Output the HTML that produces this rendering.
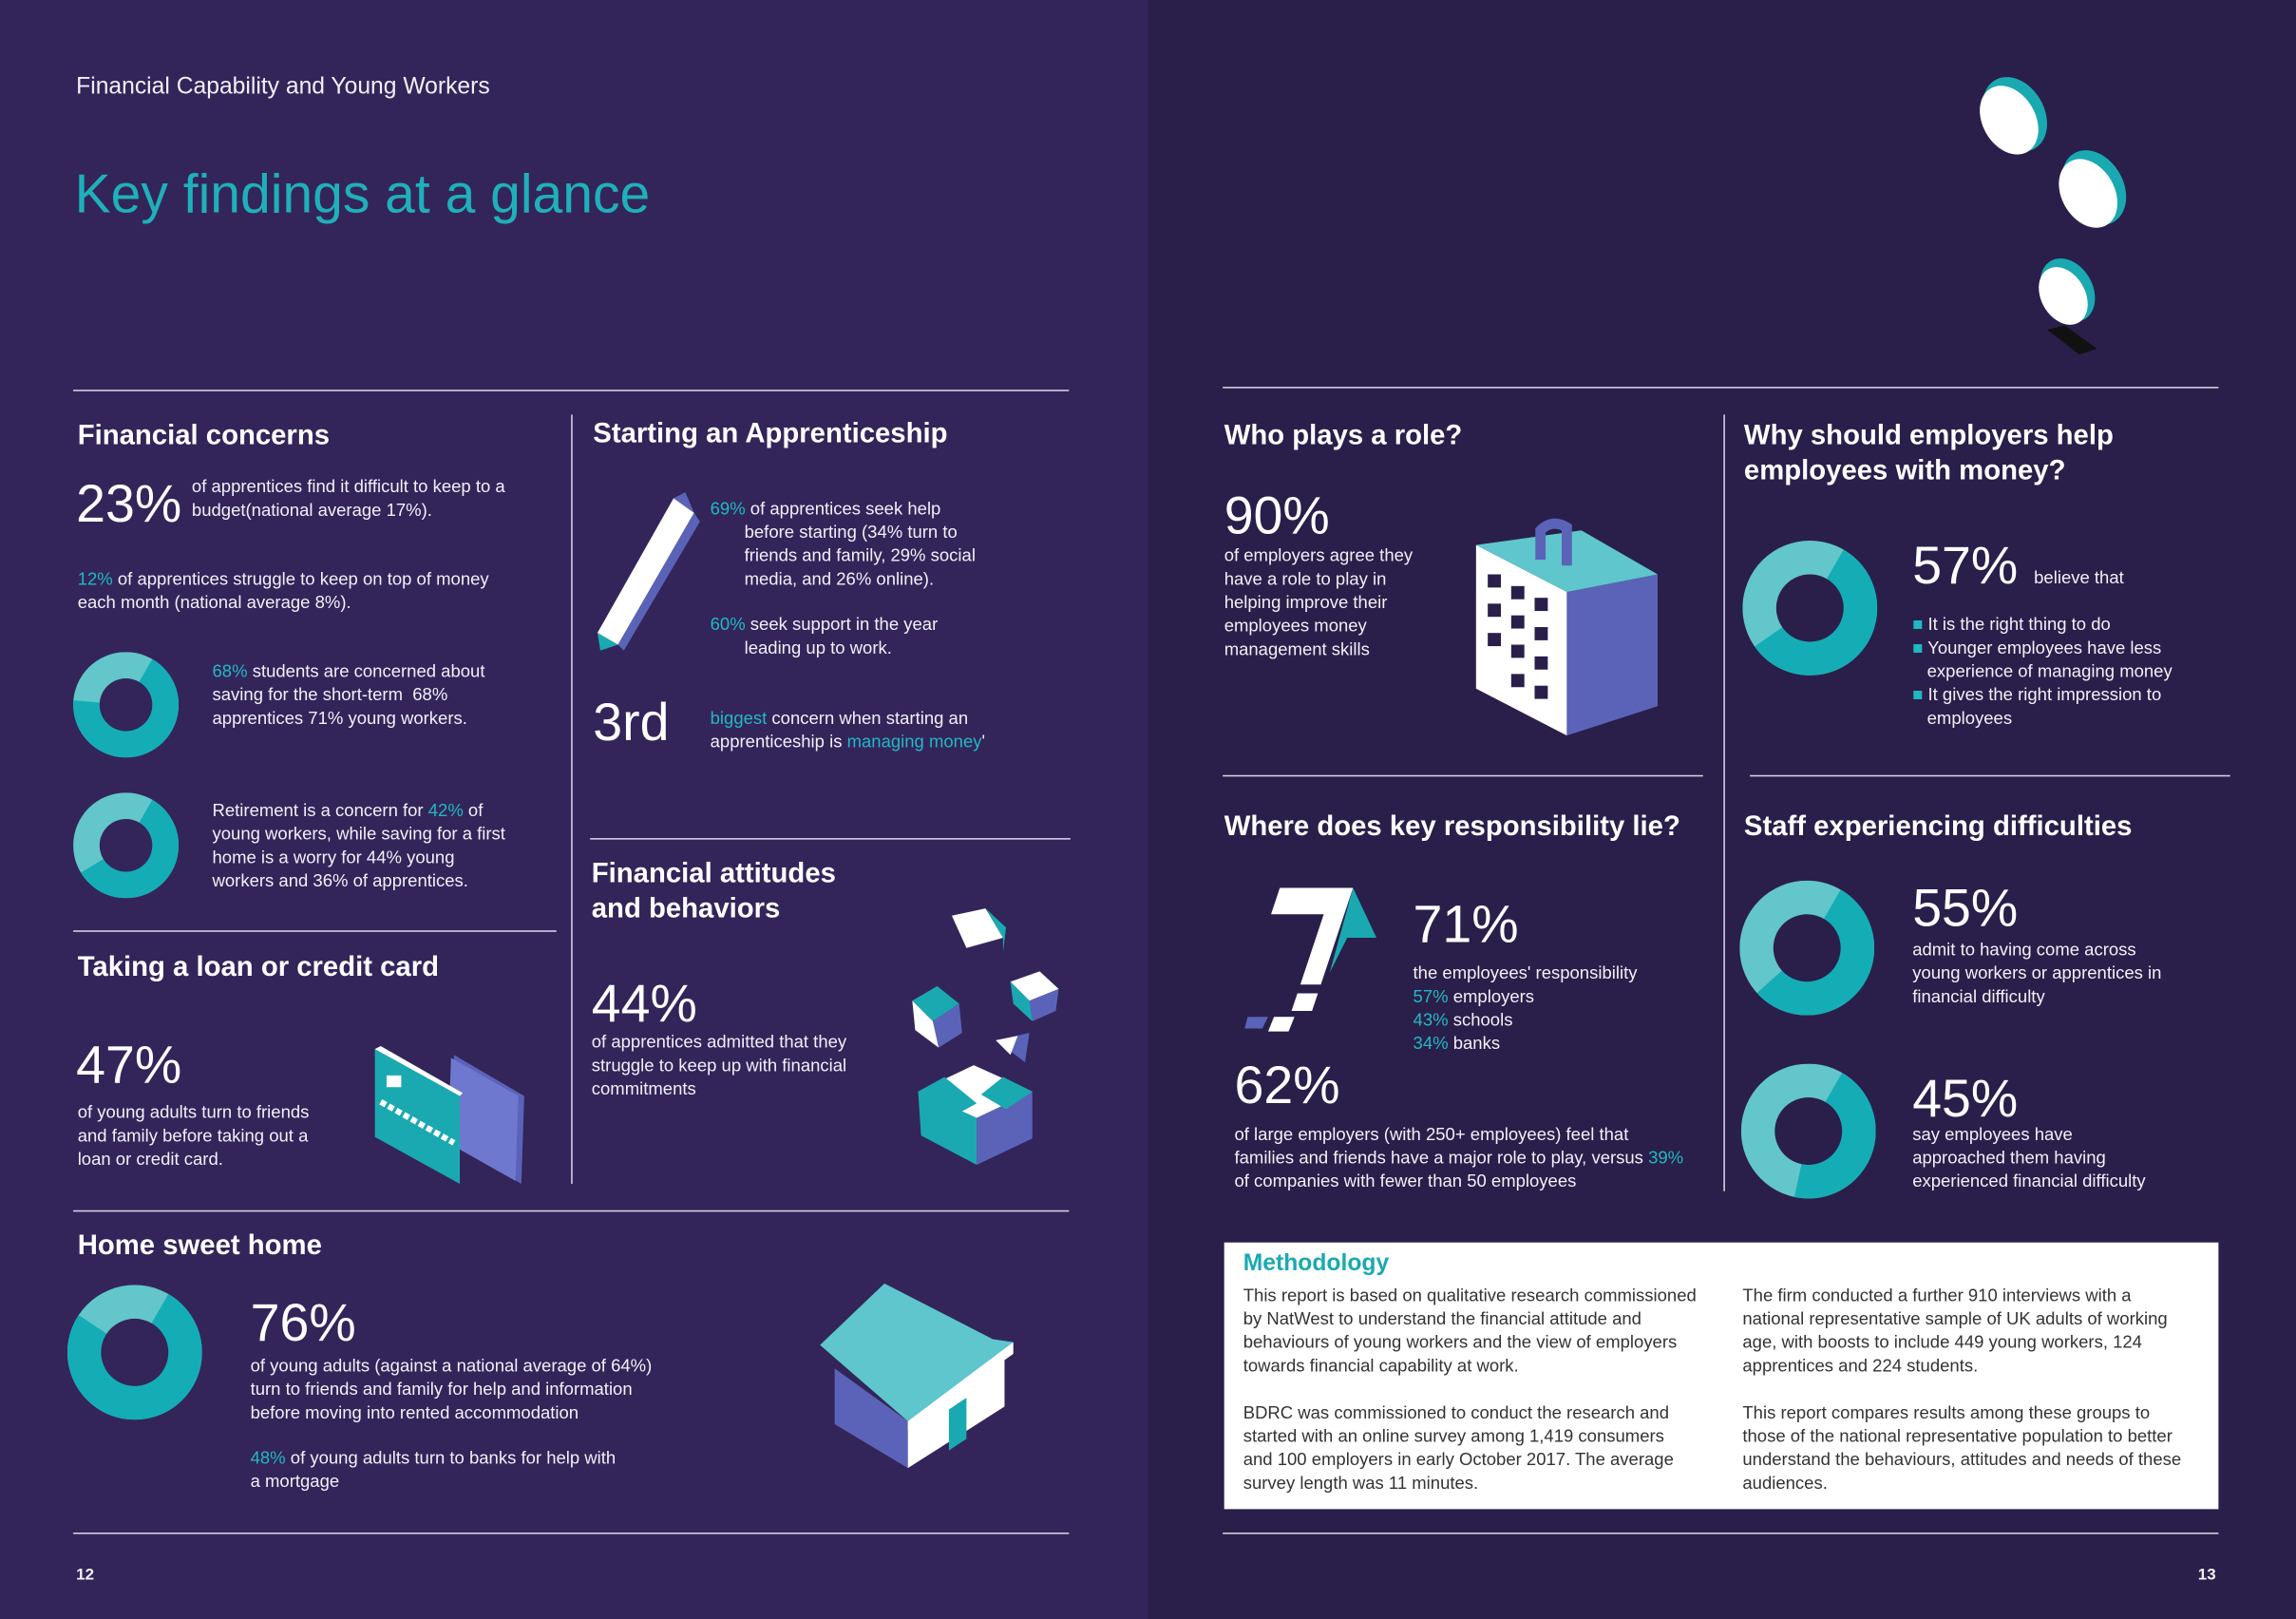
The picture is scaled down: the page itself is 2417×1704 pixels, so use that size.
<!DOCTYPE html>
<html><head><meta charset="utf-8"><style>
html,body{margin:0;padding:0;width:2417px;height:1704px;overflow:hidden;background:#2c2150}
#wrap{position:absolute;left:0;top:0;width:1568px;height:1105px;transform:scale(1.5415,1.5421);transform-origin:0 0;font-family:"Liberation Sans",sans-serif;color:#fff}
.l{position:absolute;left:0;top:0;width:784px;height:1105px;background:#33255a}
.r{position:absolute;left:784px;top:0;width:784px;height:1105px;background:#2a1f4a}
.t{position:absolute;font-size:12px;line-height:16px;color:#f2f0f7}
.h{position:absolute;font-size:19px;font-weight:bold;line-height:24px}
.big{position:absolute;font-size:36px;line-height:38px}
.c{color:#22b8c2}
.hl{position:absolute;height:1px;background:#d8d4e4}
.vl{position:absolute;width:1px;background:#d8d4e4}
svg.d{position:absolute}
</style></head><body>
<div id="wrap">
<div class="l"></div>
<div class="r"></div>
<div class="t" style="left:52px;top:52px;font-size:16px">Financial Capability and Young Workers</div>
<div style="position:absolute;left:51px;top:112px;font-size:37px;color:#1fb0b9">Key findings at a glance</div>

<div class="hl" style="left:50px;top:266px;width:680px"></div>
<div class="hl" style="left:835px;top:264px;width:680px"></div>
<div class="vl" style="left:390px;top:283px;height:525px"></div>
<div class="vl" style="left:1177px;top:283px;height:530px"></div>
<div class="hl" style="left:50px;top:635px;width:330px"></div>
<div class="hl" style="left:403px;top:572px;width:328px"></div>
<div class="hl" style="left:50px;top:826px;width:680px"></div>
<div class="hl" style="left:50px;top:1046px;width:680px"></div>
<div class="hl" style="left:835px;top:529px;width:328px"></div>
<div class="hl" style="left:1195px;top:529px;width:328px"></div>
<div class="hl" style="left:835px;top:1046px;width:680px"></div>

<div class="h" style="left:53px;top:286px">Financial concerns</div>
<div class="big" style="left:52px;top:325px">23%</div>
<div class="t" style="left:131px;top:324px;width:250px">of apprentices find it difficult to keep to a budget(national average 17%).</div>
<div class="t" style="left:53px;top:387px;width:300px"><span class="c">12%</span> of apprentices struggle to keep on top of money each month (national average 8%).</div>
<div class="t" style="left:145px;top:450px;width:215px"><span class="c">68%</span> students are concerned about saving for the short-term &nbsp;68% apprentices 71% young workers.</div>
<div class="t" style="left:145px;top:545px;width:205px">Retirement is a concern for <span class="c">42%</span> of young workers, while saving for a first home is a worry for 44% young workers and 36% of apprentices.</div>

<div class="h" style="left:53px;top:649px">Taking a loan or credit card</div>
<div class="big" style="left:52px;top:708px">47%</div>
<div class="t" style="left:53px;top:751px;width:180px">of young adults turn to friends and family before taking out a loan or credit card.</div>
<svg style="position:absolute;left:250px;top:712px" width="112" height="100">
<polygon points="60,8 108,36 106,96 58,68" fill="#5b63b8"/><polygon points="58,10 104,36 102,94 56,68" fill="#6f78cf"/>
<polygon points="6,4 64,36 64,96 6,64" fill="#1aa9b1"/><polygon points="6,4 64,36 66,34 10,2" fill="#fff"/>
<rect x="14" y="22" width="10" height="8" fill="#fff"/><line x1="10" y1="40" x2="60" y2="68" stroke="#fff" stroke-width="4" stroke-dasharray="4 2"/>
</svg>

<div class="h" style="left:405px;top:285px">Starting an Apprenticeship</div>
<svg style="position:absolute;left:402px;top:336px" width="80" height="112">
<polygon points="58,4 72,14 20,104 6,96" fill="#fff"/><polygon points="72,14 76,20 24,108 20,104" fill="#5b63b8"/>
<polygon points="58,4 66,0 72,14" fill="#5b63b8"/><polygon points="6,96 20,104 8,108" fill="#1aa9b1"/>
</svg>
<div class="t" style="left:485px;top:339px;width:210px"><span class="c">69%</span> of apprentices seek help<br>&nbsp;&nbsp;&nbsp;&nbsp;&nbsp;&nbsp;&nbsp;before starting (34% turn to<br>&nbsp;&nbsp;&nbsp;&nbsp;&nbsp;&nbsp;&nbsp;friends and family, 29% social<br>&nbsp;&nbsp;&nbsp;&nbsp;&nbsp;&nbsp;&nbsp;media, and 26% online).</div>
<div class="t" style="left:485px;top:418px;width:210px"><span class="c">60%</span> seek support in the year<br>&nbsp;&nbsp;&nbsp;&nbsp;&nbsp;&nbsp;&nbsp;leading up to work.</div>
<div class="big" style="left:405px;top:474px">3rd</div>
<div class="t" style="left:485px;top:482px;width:230px"><span class="c">biggest</span> concern when starting an apprenticeship is <span class="c">managing money</span>'</div>

<div class="h" style="left:404px;top:585px;width:200px">Financial attitudes and behaviors</div>
<div class="big" style="left:404px;top:666px">44%</div>
<div class="t" style="left:404px;top:703px;width:175px">of apprentices admitted that they struggle to keep up with financial commitments</div>
<svg style="position:absolute;left:615px;top:615px" width="115" height="185">
<polygon points="35,10 58,5 70,25 45,32" fill="#fff"/><polygon points="58,5 72,18 70,35 70,25" fill="#1aa9b1"/>
<polygon points="8,68 25,58 40,70 22,82" fill="#1aa9b1"/><polygon points="22,82 40,70 42,90 26,100" fill="#5b63b8"/><polygon points="8,68 22,82 26,100 10,88" fill="#fff"/>
<polygon points="75,55 95,48 108,60 88,68" fill="#fff"/><polygon points="88,68 108,60 106,75 90,82" fill="#5b63b8"/><polygon points="75,55 88,68 90,82 77,70" fill="#1aa9b1"/>
<polygon points="65,95 88,90 85,110" fill="#5b63b8"/><polygon points="65,95 80,92 75,105" fill="#fff"/>
<polygon points="12,130 50,112 90,130 52,148" fill="#fff"/><polygon points="12,130 52,148 52,180 14,160" fill="#1aa9b1"/><polygon points="52,148 90,130 90,162 52,180" fill="#5b63b8"/>
<polygon points="12,130 30,120 52,138 34,148" fill="#1aa9b1"/><polygon points="70,120 90,130 72,142 55,132" fill="#1aa9b1"/>
</svg>

<div class="h" style="left:53px;top:839px">Home sweet home</div>
<div class="big" style="left:171px;top:884px">76%</div>
<div class="t" style="left:171px;top:924px;width:292px">of young adults (against a national average of 64%) turn to friends and family for help and information before moving into rented accommodation</div>
<div class="t" style="left:171px;top:987px;width:250px"><span class="c">48%</span> of young adults turn to banks for help with a mortgage</div>
<svg style="position:absolute;left:558px;top:872px" width="140" height="140">
<polygon points="12,62 62,98 62,130 12,100" fill="#5b63b8"/><polygon points="62,98 128,52 128,88 62,130" fill="#fff"/>
<polygon points="2,46 46,4 120,42 134,44 84,86 62,98" fill="#5ec6cc"/><polygon points="62,98 134,44 134,52 62,104" fill="#fff"/>
<polygon points="90,90 102,82 102,110 90,118" fill="#1aa9b1"/>
</svg>

<div class="h" style="left:836px;top:286px">Who plays a role?</div>
<div class="big" style="left:836px;top:333px">90%</div>
<div class="t" style="left:836px;top:371px;width:140px">of employers agree they have a role to play in helping improve their employees money management skills</div>
<svg style="position:absolute;left:1000px;top:352px" width="140" height="155">
<polygon points="8,20 70,52 70,150 8,118" fill="#fff"/><polygon points="70,52 132,40 132,130 70,150" fill="#5b63b8"/>
<polygon points="8,20 70,52 132,40 80,10" fill="#5ec6cc"/>
<path d="M52,30 L52,10 Q60,2 70,8 L70,34" stroke="#5b63b8" stroke-width="7" fill="none"/>
<g fill="#2a1f4a"><rect x="16" y="40" width="9" height="9"/><rect x="32" y="48" width="9" height="9"/><rect x="48" y="56" width="9" height="9"/><rect x="16" y="60" width="9" height="9"/><rect x="32" y="68" width="9" height="9"/><rect x="48" y="76" width="9" height="9"/><rect x="16" y="80" width="9" height="9"/><rect x="32" y="88" width="9" height="9"/><rect x="48" y="96" width="9" height="9"/><rect x="32" y="108" width="9" height="9"/><rect x="48" y="116" width="9" height="9"/></g>
</svg>

<div class="h" style="left:1191px;top:286px;width:290px">Why should employers help employees with money?</div>
<div class="big" style="left:1306px;top:367px">57%</div>
<div class="t" style="left:1389px;top:386px">believe that</div>
<div class="t" style="left:1306px;top:418px;width:210px"><span class="c">■</span> It is the right thing to do<br><span class="c">■</span> Younger employees have less<br>&nbsp;&nbsp;&nbsp;experience of managing money<br><span class="c">■</span> It gives the right impression to<br>&nbsp;&nbsp;&nbsp;employees</div>

<div class="h" style="left:836px;top:553px">Where does key responsibility lie?</div>
<svg style="position:absolute;left:848px;top:602px" width="95" height="110">
<polygon points="26,4 76,4 54,70 40,70 56,22 20,22" fill="#fff"/><polygon points="76,4 92,38 72,38 60,62" fill="#1aa9b1"/>
<polygon points="38,76 52,76 48,88 34,88" fill="#fff"/><polygon points="22,92 36,92 32,102 18,102" fill="#fff"/><polygon points="4,92 18,92 14,100 2,100" fill="#5b63b8"/>
</svg>
<div class="big" style="left:965px;top:612px">71%</div>
<div class="t" style="left:965px;top:656px;width:200px">the employees' responsibility<br><span class="c">57%</span> employers<br><span class="c">43%</span> schools<br><span class="c">34%</span> banks</div>
<div class="big" style="left:843px;top:722px">62%</div>
<div class="t" style="left:843px;top:766px;width:312px">of large employers (with 250+ employees) feel that families and friends have a major role to play, versus <span class="c">39%</span> of companies with fewer than 50 employees</div>

<div class="h" style="left:1191px;top:553px">Staff experiencing difficulties</div>
<div class="big" style="left:1306px;top:601px">55%</div>
<div class="t" style="left:1306px;top:640px;width:180px">admit to having come across young workers or apprentices in financial difficulty</div>
<div class="big" style="left:1306px;top:731px">45%</div>
<div class="t" style="left:1306px;top:766px;width:160px">say employees have approached them having experienced financial difficulty</div>

<svg style="position:absolute;left:1340px;top:40px" width="130" height="210">
<ellipse cx="36" cy="38" rx="20" ry="27" transform="rotate(-30 36 38)" fill="#1aa9b1"/><ellipse cx="32" cy="42" rx="18" ry="25" transform="rotate(-30 32 42)" fill="#fff"/>
<ellipse cx="90" cy="88" rx="20" ry="27" transform="rotate(-30 90 88)" fill="#1aa9b1"/><ellipse cx="86" cy="92" rx="18" ry="25" transform="rotate(-30 86 92)" fill="#fff"/>
<ellipse cx="72" cy="158" rx="17" ry="23" transform="rotate(-30 72 158)" fill="#1aa9b1"/><ellipse cx="69" cy="162" rx="15" ry="21" transform="rotate(-30 69 162)" fill="#fff"/>
<polygon points="58,185 70,182 92,198 80,202" fill="#111"/>
</svg>

<div style="position:absolute;left:836px;top:848px;width:679px;height:182px;background:#fff;color:#333">
<div style="position:absolute;left:13px;top:6px;font-size:16px;font-weight:bold;color:#1aa9b1">Methodology</div>
<div class="t" style="color:#333;left:13px;top:28px;width:310px">This report is based on qualitative research commissioned by NatWest to understand the financial attitude and behaviours of young workers and the view of employers towards financial capability at work.<br><br>BDRC was commissioned to conduct the research and started with an online survey among 1,419 consumers and 100 employers in early October 2017. The average survey length was 11 minutes.</div>
<div class="t" style="color:#333;left:354px;top:28px;width:300px">The firm conducted a further 910 interviews with a national representative sample of UK adults of working age, with boosts to include 449 young workers, 124 apprentices and 224 students.<br><br>This report compares results among these groups to those of the national representative population to better understand the behaviours, attitudes and needs of these audiences.</div>
</div>
<div class="t" style="left:52px;top:1067px;font-size:11px;font-weight:bold">12</div>
<div class="t" style="left:1501px;top:1067px;font-size:11px;font-weight:bold">13</div>
</div>
<script>
const donutNames=['donut-short-term','donut-retirement','donut-home','donut-employers-help','donut-difficulty-55','donut-difficulty-45'];
const donutValues=[68,58,76,57,55,45];
const donutCx=[86,86,92,1236,1234,1235];
const donutCy=[481,577,923,415,647,772];
const donutR=[36,36,46,46,46,46];
const wrap=document.getElementById('wrap');
const NS='http://www.w3.org/2000/svg';
function arc(cx,cy,r,a0,a1){const p=a=>[cx+r*Math.sin(a),cy-r*Math.cos(a)];const[x0,y0]=p(a0),[x1,y1]=p(a1);const lg=(a1-a0)>Math.PI?1:0;return `M${cx},${cy} L${x0},${y0} A${r},${r} 0 ${lg} 1 ${x1},${y1} Z`;}
donutValues.forEach((v,i)=>{
 const r=donutR[i],s=document.createElementNS(NS,'svg');
 s.setAttribute('class','d');s.setAttribute('width',2*r);s.setAttribute('height',2*r);
 s.style.left=(donutCx[i]-r)+'px';s.style.top=(donutCy[i]-r)+'px';
 
 
 const st=Math.PI/6,en=st+v/100*2*Math.PI;
 const bg=document.createElementNS(NS,'circle');bg.setAttribute('cx',r);bg.setAttribute('cy',r);bg.setAttribute('r',r);bg.setAttribute('fill','#62c6ca');
 
 
 s.appendChild(bg);
 const p=document.createElementNS(NS,'path');p.setAttribute('d',arc(r,r,r,st,en));p.setAttribute('fill','#14adb5');
 
 
 s.appendChild(p);
 const h=document.createElementNS(NS,'circle');h.setAttribute('cx',r);h.setAttribute('cy',r);h.setAttribute('r',r*0.5);h.setAttribute('fill',i<3?'#33255a':'#2a1f4a');
 
 
 s.appendChild(h);
 wrap.appendChild(s);
});
</script>
</body></html>
